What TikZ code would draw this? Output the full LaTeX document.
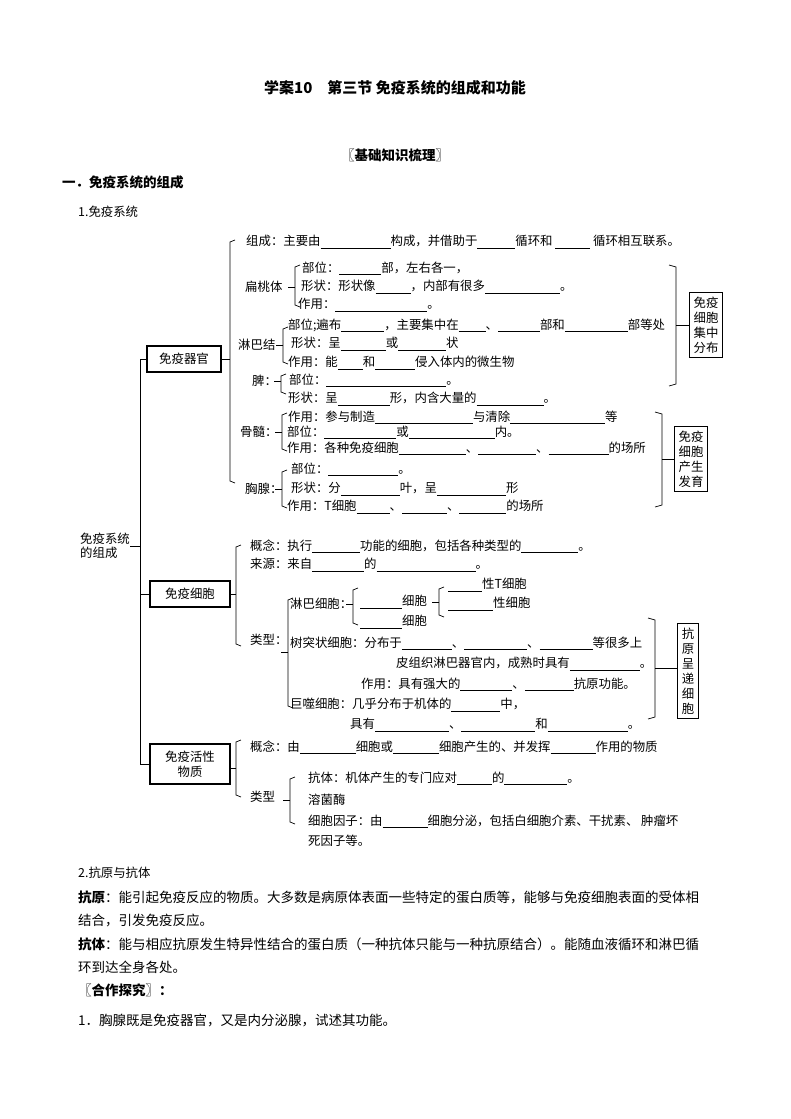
\documentclass[tikz,border=0pt]{standalone}
\usepackage{fontspec}
\setmainfont{Noto Sans CJK SC}
\newcommand\bk[1]{\rule[-2.5pt]{#1pt}{0.5pt}}
\newcommand\lbrk[4]{\draw[br] (#1+5,#2)--(#1,#2+2)--(#1,#3-2)--(#1+5,#3); \draw[br] (#1,#4)--(#1-7,#4);}
\newcommand\rbrk[4]{\draw[br] (#1-7,#2)--(#1,#2+2)--(#1,#3-2)--(#1-7,#3); \draw[br] (#1,#4)--(#1+8,#4);}
\tikzset{t/.style={anchor=west,inner sep=0pt,font=\fontsize{12.4}{14}\selectfont},
 tb/.style={anchor=west,inner sep=0pt,font=\fontsize{13.5}{16}\selectfont},
 box/.style={draw,line width=1.2pt,inner sep=3pt,align=center,font=\fontsize{12.4}{15}\selectfont},
 br/.style={line width=0.7pt}}
\begin{document}
\begin{tikzpicture}[x=1pt,y=-1pt]
\useasboundingbox (0,0) rectangle (790,1119);
\node[font=\fontsize{15}{18}\selectfont\bfseries] (title) at (395,88) {学案10　第三节 免疫系统的组成和功能};
\node[font=\fontsize{13.5}{16}\selectfont\bfseries] (h1) at (395,155) {〖基础知识梳理〗};
\node[tb,font=\fontsize{13.5}{16}\selectfont\bfseries] (h2) at (62,182) {一．免疫系统的组成};
\node[t] (h3) at (78,212) {1.免疫系统};
% left
\node[t,align=left] (sys) at (80,546) {免疫系统\\的组成};
\node[box,minimum width=74pt,minimum height=26pt] (b1) at (184,359) {免疫器官};
\node[box,minimum width=80pt,minimum height=26pt] (b2) at (190,594) {免疫细胞};
\node[box,minimum width=80pt,minimum height=40pt] (b3) at (190,764) {免疫活性\\物质};
\draw[br] (b1.west)--(140,359)--(140,764)--(b3.west);
\draw[br] (b2.west)--(140,594);
\draw[br] (140,546)--(sys.east);
% organ branch
\draw[br] (235,240)--(230,242)--(230,481)--(235,483);
\draw[br] (b1.east)--(230,359);
\node[t] (c1) at (246,242) {组成：主要由\bk{70}构成，并借助于\bk{38}循环和 \bk{35} 循环相互联系。};
\node[t] (ta) at (245,287) {扁桃体};
\lbrk{295}{265}{307}{287}
\node[t] (ta1) at (302,268) {部位：\bk{42}部，左右各一，};
\node[t] (ta2) at (301,287) {形状：形状像\bk{35}，内部有很多\bk{75}。};
\node[t] (ta3) at (298,305) {作用：\bk{92}。};
\node[t] (lb) at (238,345) {淋巴结};
\lbrk{283}{327}{364}{345}
\node[t] (lb1) at (288,325) {部位;遍布\bk{43}，主要集中在\bk{27}、\bk{42}部和\bk{63}部等处};
\node[t] (lb2) at (291,344) {形状：呈\bk{45}或\bk{48}状};
\node[t] (lb3) at (288,363) {作用：能\bk{25}和\bk{40}侵入体内的微生物};
\node[t] (sp) at (252,381) {脾：};
\lbrk{281}{374}{394}{381}
\node[t] (sp1) at (289,380) {部位：\bk{120}。};
\node[t] (sp2) at (288,399) {形状：呈\bk{52}形，内含大量的\bk{67}。};
\node[t] (gs) at (240,432) {骨髓：};
\lbrk{282}{413}{451}{432}
\node[t] (gs1) at (288,417) {作用：参与制造\bk{98}与清除\bk{95}等};
\node[t] (gs2) at (287,432) {部位：\bk{72}或\bk{86}内。};
\node[t] (gs3) at (287,448) {作用：各种免疫细胞\bk{67}、\bk{58}、\bk{60}的场所};
\node[t] (xx) at (245,489) {胸腺：};
\lbrk{282}{470}{508}{489}
\node[t] (xx1) at (291,469) {部位：\bk{70}。};
\node[t] (xx2) at (291,489) {形状：分\bk{59}叶，呈\bk{69}形};
\node[t] (xx3) at (287,507) {作用：T细胞\bk{33}、\bk{45}、\bk{47}的场所};
\node[box,line width=0.9pt,inner sep=4pt] (r1) at (706,325) {免疫\\细胞\\集中\\分布};
\rbrk{676}{265}{386}{325}
\draw[br] (684,325)--(r1.west);
\node[box,line width=0.9pt,inner sep=4pt] (r2) at (691,459) {免疫\\细胞\\产生\\发育};
\rbrk{662}{412}{507}{459}
\draw[br] (670,459)--(r2.west);
% cells branch
\lbrk{236}{545}{646}{594}
\node[t] (k1) at (250,546) {概念：执行\bk{48}功能的细胞，包括各种类型的\bk{57}。};
\node[t] (k2) at (250,565) {来源：来自\bk{52}的\bk{99}。};
\node[t] (k3) at (250,640) {类型：};
\lbrk{288}{598}{708}{652}
\node[t] (lc) at (290,604) {淋巴细胞：};
\lbrk{353}{588}{625}{604}
\node[t] (lc1) at (360,602) {\bk{42}细胞};
\node[t] (lc2) at (360,622) {\bk{42}细胞};
\lbrk{439}{587}{617}{602}
\node[t] (lt1) at (448,585) {\bk{34}性T细胞};
\node[t] (lt2) at (448,604) {\bk{45}性细胞};
\node[t] (dc1) at (290,643) {树突状细胞：分布于\bk{50}、\bk{63}、\bk{53}等很多上};
\node[t] (dc2) at (396,664) {皮组织淋巴器官内，成熟时具有\bk{70}。};
\node[t] (dc3) at (361,684) {作用：具有强大的\bk{52}、\bk{49}抗原功能。};
\node[t] (mc1) at (290,705) {巨噬细胞：几乎分布于机体的\bk{49}中，};
\node[t] (mc2) at (350,725) {具有\bk{74}、\bk{74}和\bk{80}。};
\node[box,line width=0.9pt,inner sep=4pt] (r3) at (688,671) {抗\\原\\呈\\递\\细\\胞};
\rbrk{655}{618}{719}{668}
\draw[br] (663,668)--(r3.west |- 0,668);
% active substances
\lbrk{236}{740}{797}{768}
\node[t] (a1) at (250,747) {概念：由\bk{56}细胞或\bk{46}细胞产生的、并发挥\bk{45}作用的物质};
\node[t] (a2) at (250,797) {类型};
\lbrk{290}{777}{824}{800}
\node[t] (a3) at (308,778) {抗体：机体产生的专门应对\bk{35}的\bk{63}。};
\node[t] (a4) at (308,800) {溶菌酶};
\node[t] (a5) at (308,821) {细胞因子：由\bk{45}细胞分泌，包括白细胞介素、干扰素、 肿瘤坏};
\node[t] (a6) at (308,841) {死因子等。};
% bottom text
\node[t] (s2) at (78,873) {2.抗原与抗体};
\node[tb] (p1) at (78,897) {\textbf{抗原}：能引起免疫反应的物质。大多数是病原体表面一些特定的蛋白质等，能够与免疫细胞表面的受体相};
\node[tb] (p2) at (78,920) {结合，引发免疫反应。};
\node[tb] (p3) at (78,944) {\textbf{抗体}：能与相应抗原发生特异性结合的蛋白质（一种抗体只能与一种抗原结合）。能随血液循环和淋巴循};
\node[tb] (p4) at (78,967) {环到达全身各处。};
\node[tb] (p5) at (78,990) {\textbf{〖合作探究〗：}};
\node[tb] (p6) at (78,1020) {1．胸腺既是免疫器官，又是内分泌腺，试述其功能。};
\end{tikzpicture}
\end{document}
